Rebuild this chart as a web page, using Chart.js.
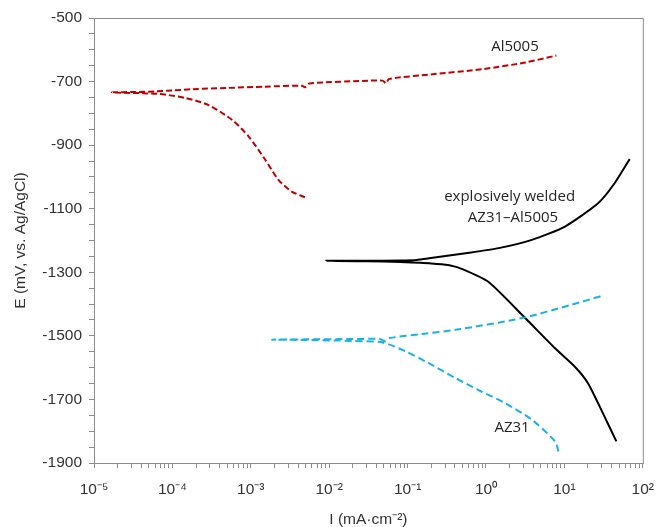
<!DOCTYPE html>
<html>
<head>
<meta charset="utf-8">
<script src="https://cdn.jsdelivr.net/npm/chart.js@4.4.0/dist/chart.umd.min.js"></script>
<style>
  html, body { margin: 0; padding: 0; background: #fff; }
  #wrap { width: 666px; height: 527px; }
</style>
</head>
<body>
<div id="wrap"><canvas id="polChart" width="666" height="527"></canvas></div>
<script>
// Potentiodynamic polarization curves, I (mA/cm2) vs E (mV vs Ag/AgCl)
const xDecades = [-5, -4, -3, -2, -1, 0, 1, 2];
const yMajorTicks = [-500, -700, -900, -1100, -1300, -1500, -1700, -1900];

// each curve: cathodic end -> corrosion potential -> anodic end
const al5005I = [4.9e-3, 3.33e-3, 2.25e-3, 1.53e-3, 9.4e-4, 5.8e-4, 2.9e-4, 1.48e-4, 6.8e-5, 1.7e-5,
                 3e-5, 6e-5, 1.0e-4, 1.8e-4, 5e-4, 1.5e-3, 4.5e-3, 4.9e-3, 5.6e-3, 0.0327, 0.048, 0.053, 0.058, 0.208, 0.895, 3.16, 7.9];
const al5005E = [-1064, -1046, -1009, -946, -873, -821, -774, -752, -739, -734,
                 -733, -731, -728, -724, -720, -716, -713, -718, -706, -697, -697, -705, -692, -677, -661, -640, -618];

const az31I = [8.4, 7.6, 3.85, 1.77, 0.87, 0.41, 0.186, 0.095, 0.048, 0.02, 5e-3, 1.86e-3,
               5e-3, 0.02, 0.044, 0.052, 0.059, 0.155, 0.41, 2.88, 12.4, 31.2];
const az31E = [-1864, -1832, -1764, -1712, -1675, -1633, -1586, -1549, -1521, -1516, -1513, -1512,
               -1511, -1510, -1510, -1517, -1507, -1494, -1481, -1444, -1402, -1373];

const weldedI = [46, 32.5, 20, 13.6, 7.6, 3.16, 1.07, 0.5, 0.34, 0.2, 0.08, 0.03, 9.2e-3,
                 0.03, 0.08, 0.13, 0.188, 0.55, 1.45, 3.85, 10.2, 26.9, 43.7, 68];
const weldedE = [-1832, -1754, -1649, -1597, -1539, -1444, -1330, -1290, -1278, -1272, -1268, -1265, -1264,
                 -1264, -1263, -1261, -1256, -1240, -1224, -1198, -1156, -1083, -1020, -944];

const toPoints = (xs, ys) => xs.map((x, i) => ({ x: x, y: ys[i] }));

const supMap = { '-': '\u207B', '0': '\u2070', '1': '\u00B9', '2': '\u00B2', '3': '\u00B3',
                 '4': '\u2074', '5': '\u2075', '6': '\u2076', '7': '\u2077', '8': '\u2078', '9': '\u2079' };
const sup = n => String(n).split('').map(c => supMap[c]).join('');

const curveLabels = [
    { text: 'Al5005', x: 2.34, y: -591 },
    { text: 'explosively welded', x: 2.0, y: -1062 },
    { text: 'AZ31\u2013Al5005', x: 2.21, y: -1129 },
    { text: 'AZ31', x: 2.15, y: -1790 }
];

const axisColor = '#8c8c8c';
const tickFont = { family: '"Liberation Sans", Arial, sans-serif', size: 15.5 };

// frame round the plot area plus the curve labels
const framePlugin = {
    id: 'frame',
    afterDraw(chart) {
        const { ctx, chartArea, scales } = chart;
        ctx.save();
        ctx.strokeStyle = axisColor;
        ctx.lineWidth = 1;
        ctx.strokeRect(chartArea.left + 0.5, chartArea.top + 0.5,
            chartArea.right - chartArea.left, chartArea.bottom - chartArea.top);
        ctx.fillStyle = '#262626';
        ctx.font = '15px "Open Sans", sans-serif';
        ctx.textAlign = 'center';
        ctx.textBaseline = 'middle';
        curveLabels.forEach(l => {
            ctx.fillText(l.text, scales.x.getPixelForValue(l.x), scales.y.getPixelForValue(l.y));
        });
        ctx.restore();
    }
};

new Chart(document.getElementById('polChart'), {
    type: 'scatter',
    data: {
        datasets: [
            {
                label: 'Al5005',
                data: toPoints(al5005I, al5005E),
                borderColor: '#c00000',
                borderWidth: 2,
                borderDash: [6, 3],
                tension: 0.25
            },
            {
                label: 'AZ31',
                data: toPoints(az31I, az31E),
                borderColor: '#1ab0e8',
                borderWidth: 2,
                borderDash: [7, 4],
                tension: 0.25
            },
            {
                label: 'explosively welded AZ31-Al5005',
                data: toPoints(weldedI, weldedE),
                borderColor: '#000000',
                borderWidth: 2,
                tension: 0.2
            }
        ]
    },
    options: {
        responsive: false,
        animation: false,
        showLine: true,
        pointRadius: 0,
        pointHoverRadius: 0,
        layout: { padding: { top: 18, right: 14, left: 0, bottom: 0 } },
        plugins: { legend: { display: false }, tooltip: { enabled: false } },
        scales: {
            x: {
                type: 'logarithmic',
                min: 1e-5,
                max: 100,
                afterBuildTicks: scale => {
                    const t = [];
                    xDecades.forEach((d, i) => {
                        t.push({ value: Math.pow(10, d) });
                        if (i < xDecades.length - 1) {
                            for (let m = 2; m <= 9; m++) t.push({ value: m * Math.pow(10, d) });
                        }
                    });
                    scale.ticks = t;
                },
                afterFit: scale => { scale.height = 64; },
                grid: { display: true, drawOnChartArea: false, drawTicks: true, tickLength: 5, color: axisColor },
                border: { color: axisColor },
                ticks: {
                    autoSkip: false,
                    maxRotation: 0,
                    padding: 12,
                    color: '#333',
                    font: tickFont,
                    callback: v => {
                        const e = Math.log10(v);
                        return Math.abs(e - Math.round(e)) < 1e-6 ? '10' + sup(Math.round(e)) : '';
                    }
                },
                title: {
                    display: true,
                    text: 'I (mA\u00B7cm\u207B\u00B2)',
                    color: '#333',
                    font: { family: '"Liberation Sans", Arial, sans-serif', size: 15.5, lineHeight: 1 },
                    padding: { top: 0, bottom: 0 }
                }
            },
            y: {
                min: -1900,
                max: -500,
                afterBuildTicks: scale => {
                    const t = [];
                    for (let v = yMajorTicks[yMajorTicks.length - 1]; v <= yMajorTicks[0]; v += 50) t.push({ value: v });
                    scale.ticks = t;
                },
                afterFit: scale => { scale.width = 94; },
                grid: { display: true, drawOnChartArea: false, drawTicks: true, tickLength: 5, color: axisColor },
                border: { color: axisColor },
                ticks: {
                    autoSkip: false,
                    padding: 7,
                    color: '#333',
                    font: tickFont,
                    callback: v => yMajorTicks.includes(v) ? String(v) : ''
                },
                title: {
                    display: true,
                    text: 'E (mV, vs. Ag/AgCl)',
                    color: '#333',
                    font: { family: '"Liberation Sans", Arial, sans-serif', size: 15.5, lineHeight: 1 },
                    padding: { top: 13, bottom: 0 }
                }
            }
        }
    },
    plugins: [framePlugin]
});
</script>
</body>
</html>
